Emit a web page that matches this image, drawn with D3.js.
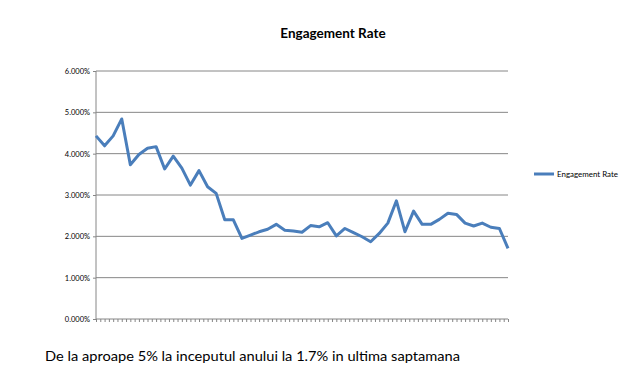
<!DOCTYPE html>
<html>
<head>
<meta charset="utf-8">
<style>
  body { margin: 0; background: #fff; }
  svg text { font-family: Lato, "Open Sans", sans-serif; fill: #000; }
  .grid line { stroke: #868686; stroke-width: 1; }
  .axis path, .axis line { stroke: #868686; }
  .axis text { font-size: 7.5px; }
</style>
</head>
<body>
<svg id="chart" width="637" height="382"></svg>
<script src="https://cdn.jsdelivr.net/npm/d3@7"></script>
<script>
// weekly engagement rate
var weeks = d3.range(1, 50);
var rates = [4.43, 4.19, 4.43, 4.84, 3.73, 3.98, 4.13, 4.17, 3.63, 3.94,
             3.65, 3.24, 3.59, 3.20, 3.04, 2.40, 2.40, 1.95, 2.03, 2.11,
             2.17, 2.29, 2.15, 2.13, 2.10, 2.26, 2.23, 2.33, 2.01, 2.19,
             2.09, 1.99, 1.87, 2.07, 2.32, 2.86, 2.11, 2.61, 2.29, 2.29,
             2.41, 2.56, 2.53, 2.32, 2.25, 2.32, 2.22, 2.19, 1.71];
var yTicks = [0, 1, 2, 3, 4, 5, 6];
var title = "Engagement Rate";
var seriesName = "Engagement Rate";
var caption = "De la aproape 5% la inceputul anului la 1.7% in ultima saptamana";

var svg = d3.select("#chart");
var margin = {left: 96, top: 71},
    width = 412,
    height = 248;

var g = svg.append("g")
    .attr("transform", "translate(" + margin.left + "," + margin.top + ")");

var x = d3.scalePoint().domain(weeks).range([0, width]);
var xi = d3.scaleLinear().domain([0, weeks.length - 1]).range([0, width]);
var y = d3.scaleLinear().domain([0, 6]).range([height, 0]);

// gridlines
g.append("g").attr("class", "grid")
  .selectAll("line")
  .data(yTicks.slice(1))
  .enter().append("line")
    .attr("x1", 0).attr("x2", width)
    .attr("y1", function(d) { return y(d); })
    .attr("y2", function(d) { return y(d); });

// y axis
var yAxis = g.append("g").attr("class", "axis")
    .call(d3.axisLeft(y).tickValues(yTicks).tickSize(3).tickPadding(3)
      .tickFormat(function(d) { return d3.format(".3f")(d) + "%"; }));
yAxis.select(".domain").attr("d", "M0,0V" + height);

// x axis, no labels, small ticks
var xAxis = g.append("g").attr("class", "axis")
    .attr("transform", "translate(0," + height + ")")
    .call(d3.axisBottom(xi).tickValues(d3.range(0, weeks.length - 0.99, 0.5))
      .tickSize(3).tickFormat(""));
xAxis.select(".domain").attr("d", "M0,0H" + width);

// series line
var line = d3.line()
    .x(function(d, i) { return x(weeks[i]); })
    .y(function(d) { return y(d); });

g.append("path")
    .datum(rates)
    .attr("fill", "none")
    .attr("stroke", "#4a7ebb")
    .attr("stroke-width", 3)
    .attr("stroke-linejoin", "round")
    .attr("d", line);

// title
svg.append("text")
    .attr("x", 333).attr("y", 37.5)
    .attr("text-anchor", "middle")
    .attr("font-size", "13.5px")
    .attr("font-weight", "bold")
    .text(title);

// legend
var leg = svg.append("g").attr("transform", "translate(534,174)");
leg.append("line")
    .attr("x1", 0).attr("x2", 20)
    .attr("stroke", "#4a7ebb").attr("stroke-width", 3);
leg.append("text")
    .attr("x", 23).attr("y", 2.5)
    .attr("font-size", "7.5px")
    .attr("textLength", 61)
    .attr("lengthAdjust", "spacingAndGlyphs")
    .text(seriesName);

// caption
svg.append("text")
    .attr("x", 45).attr("y", 361)
    .attr("font-size", "14px")
    .attr("textLength", 415)
    .attr("lengthAdjust", "spacingAndGlyphs")
    .text(caption);
</script>
</body>
</html>
